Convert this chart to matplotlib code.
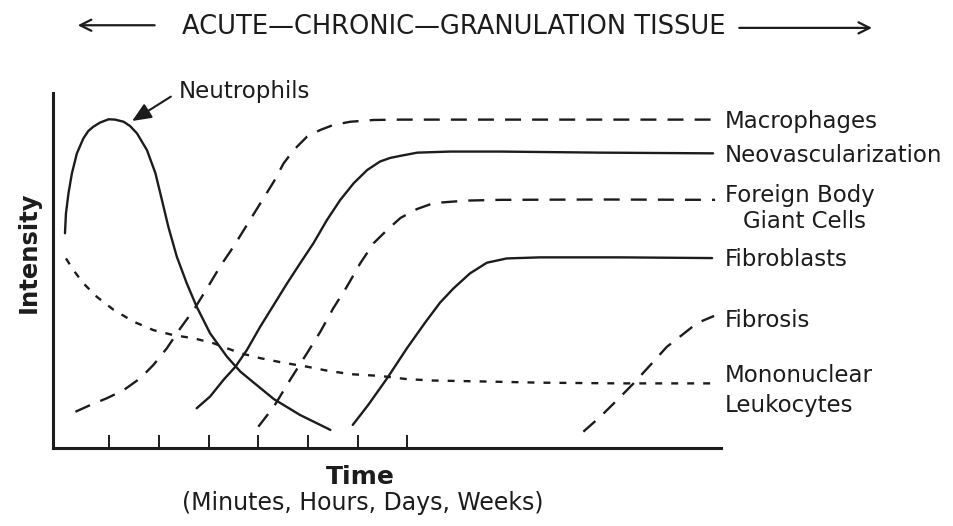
import matplotlib
matplotlib.use("Agg")
import matplotlib.pyplot as plt

plt.rcParams['font.family'] = ['DejaVu Sans']
plt.rcParams['lines.scale_dashes'] = False

# time in tick units (ticks at 1..7), intensity 0..10
neutro_t = [0.11, 0.13, 0.18, 0.25, 0.35, 0.48, 0.58, 0.68, 0.82, 0.99, 1.12, 1.29, 1.42,
            1.56, 1.76, 1.93, 2.06, 2.19, 2.36, 2.56, 2.76, 3.03, 3.37, 3.64, 3.97, 4.31,
            4.84, 5.45]
neutro_i = [6.05, 6.61, 7.17, 7.74, 8.30, 8.72, 8.93, 9.05, 9.17, 9.26, 9.25, 9.19, 9.07,
            8.86, 8.39, 7.74, 6.99, 6.23, 5.39, 4.64, 3.98, 3.23, 2.57, 2.15, 1.77, 1.38,
            0.93, 0.51]

macro_t = [0.32, 0.62, 0.95, 1.29, 1.62, 1.89, 2.16, 2.43, 2.70, 2.97, 3.23, 3.50, 3.77,
           4.04, 4.31, 4.51, 4.71, 4.98, 5.25, 5.51, 5.85, 6.32, 6.86, 8.87, 10.88, 13.19]
macro_i = [1.02, 1.21, 1.40, 1.63, 1.96, 2.34, 2.81, 3.37, 3.89, 4.50, 5.11, 5.67, 6.28,
           6.89, 7.50, 8.02, 8.39, 8.77, 8.96, 9.10, 9.19, 9.24, 9.25, 9.25, 9.25, 9.25]

neo_t = [2.76, 3.03, 3.30, 3.54, 3.77, 4.04, 4.31, 4.58, 4.84, 5.11, 5.38, 5.65, 5.92,
         6.19, 6.45, 6.65, 6.86, 7.20, 7.86, 8.87, 10.88, 13.15]
neo_i = [1.12, 1.45, 1.92, 2.29, 2.76, 3.42, 4.03, 4.64, 5.20, 5.77, 6.42, 6.99, 7.46,
         7.83, 8.07, 8.17, 8.23, 8.32, 8.35, 8.35, 8.32, 8.30]

fbgc_t = [4.00, 4.31, 4.64, 4.98, 5.25, 5.51, 5.78, 6.05, 6.32, 6.59, 6.86, 7.19, 7.53,
          8.20, 8.87, 10.88, 13.19]
fbgc_i = [0.60, 1.16, 1.92, 2.67, 3.28, 3.94, 4.54, 5.20, 5.77, 6.14, 6.48, 6.73, 6.90,
          6.97, 6.99, 7.00, 6.99]

fibro_t = [5.90, 6.21, 6.59, 6.99, 7.36, 7.66, 7.93, 8.26, 8.60, 9.00, 9.67, 11.28, 13.13]
fibro_i = [0.65, 1.21, 1.96, 2.81, 3.54, 4.10, 4.50, 4.92, 5.22, 5.34, 5.37, 5.37, 5.35]

fibrosis_t = [10.54, 10.88, 11.22, 11.55, 11.89, 12.22, 12.55, 12.83, 13.17]
fibrosis_i = [0.46, 0.88, 1.35, 1.82, 2.34, 2.85, 3.21, 3.52, 3.72]

mono_t = [0.13, 0.28, 0.48, 0.75, 1.09, 1.49, 1.89, 2.29, 2.70, 3.10, 3.64, 4.04, 4.51,
          4.98, 5.38, 5.85, 6.45, 6.99, 7.53, 8.67, 9.67, 11.28, 13.15]
mono_i = [5.34, 5.01, 4.64, 4.26, 3.89, 3.56, 3.32, 3.18, 3.09, 2.95, 2.67, 2.53, 2.40,
          2.29, 2.18, 2.08, 2.03, 1.94, 1.90, 1.87, 1.84, 1.82, 1.82]

tick_pos = [1, 2, 3, 4, 5, 6, 7]

# label text, height on the intensity scale, extra indent
labels = [("Macrophages", 9.21, 0.0),
          ("Neovascularization", 8.25, 0.0),
          ("Foreign Body", 7.10, 0.0),
          ("Giant Cells", 6.39, 0.36),
          ("Fibroblasts", 5.30, 0.0),
          ("Fibrosis", 3.58, 0.0),
          ("Mononuclear", 2.03, 0.0),
          ("Leukocytes", 1.21, 0.0)]

INK = '#1c1c1c'
LW = 1.7
DASH = (0, (11.5, 8))
DOT = (0, (5, 6.5))

fig = plt.figure(figsize=(9.54, 5.26), dpi=100)
ax = fig.add_axes([0.0556, 0.1483, 0.7002, 0.6749])

ax.plot(neutro_t, neutro_i, color=INK, lw=LW, solid_capstyle='round', solid_joinstyle='round')
ax.plot(macro_t, macro_i, color=INK, lw=LW, linestyle=DASH)
ax.plot(neo_t, neo_i, color=INK, lw=LW, solid_capstyle='round', solid_joinstyle='round')
ax.plot(fbgc_t, fbgc_i, color=INK, lw=LW, linestyle=DASH)
ax.plot(fibro_t, fibro_i, color=INK, lw=LW, solid_capstyle='round', solid_joinstyle='round')
ax.plot(fibrosis_t, fibrosis_i, color=INK, lw=LW, linestyle=DASH)
ax.plot(mono_t, mono_i, color=INK, lw=LW, linestyle=DOT)

ax.set_xlim(-0.13, 13.31)
ax.set_ylim(0, 10)

for s in ['top', 'right']:
    ax.spines[s].set_visible(False)
for s in ['left', 'bottom']:
    ax.spines[s].set_linewidth(2.2)
    ax.spines[s].set_color(INK)

ax.set_xticks(tick_pos)
ax.set_xticklabels([])
ax.set_yticks([])
ax.tick_params(axis='x', direction='in', length=9.5, width=1.4, color=INK)

for txt, yv, dx in labels:
    ax.text(13.39 + dx, yv, txt, ha='left', va='center', fontsize=16.5,
            color=INK, clip_on=False)

ax.annotate("Neutrophils", xy=(1.46, 9.21), xytext=(2.39, 10.03),
            ha='left', va='center', fontsize=16.5, color=INK,
            arrowprops=dict(arrowstyle='-|>,head_length=0.7,head_width=0.3',
                            color=INK, lw=1.5, relpos=(0, 0.5),
                            shrinkA=4, shrinkB=0))

ax.set_ylabel("Intensity", fontsize=17.5, fontweight='bold', color=INK)
ax.yaxis.set_label_coords(-0.019, 0.552)

ax.text(0.46, -0.082, "Time", transform=ax.transAxes, ha='center', va='center',
        fontsize=18, fontweight='bold', color=INK)
ax.text(0.463, -0.155, "(Minutes, Hours, Days, Weeks)", transform=ax.transAxes,
        ha='center', va='center', fontsize=17, color=INK)

# phase banner across the top
fig.text(0.476, 0.949, "ACUTE\u2014CHRONIC\u2014GRANULATION TISSUE",
         ha='center', va='center', fontsize=18.5, color=INK)
fig.add_artist(matplotlib.patches.FancyArrowPatch(
    (0.165, 0.952), (0.0786, 0.952), transform=fig.transFigure,
    arrowstyle='->,head_length=8,head_width=4', color=INK, lw=1.6))
fig.add_artist(matplotlib.patches.FancyArrowPatch(
    (0.772, 0.947), (0.917, 0.947), transform=fig.transFigure,
    arrowstyle='->,head_length=8,head_width=4', color=INK, lw=1.6))

fig.savefig("out.png", dpi=100, facecolor='white')
